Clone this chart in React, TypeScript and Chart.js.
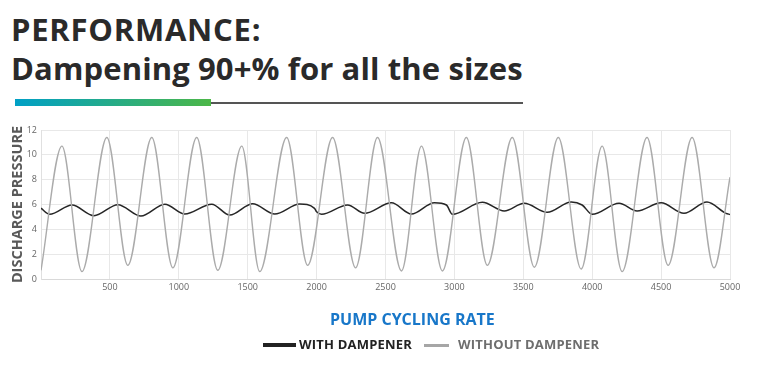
import React, { useEffect, useRef } from "react";
import { Chart, registerables } from "chart.js";

Chart.register(...registerables);

// Without dampener (gray) – peaks and troughs
const withoutX = [0, 152, 297, 478, 630, 804, 957, 1130, 1283, 1457, 1587, 1783, 1935, 2116, 2283, 2442, 2616, 2761, 2913, 3087, 3239, 3420, 3580, 3754, 3920, 4072, 4217, 4398, 4551, 4725, 4884, 5000];
const withoutY = [0.7, 10.7, 0.6, 11.4, 1.1, 11.4, 0.9, 11.4, 0.7, 10.7, 0.6, 11.4, 1.1, 11.4, 0.9, 11.4, 0.65, 10.7, 0.65, 11.4, 1.1, 11.4, 0.95, 11.4, 0.8, 10.7, 0.6, 11.4, 1.1, 11.4, 0.9, 8.2];

// With dampener (black)
const withX = [0, 63, 225, 384, 558, 725, 899, 1043, 1239, 1370, 1536, 1696, 1877, 1985, 2000, 2036, 2225, 2348, 2543, 2688, 2855, 2942, 2985, 3203, 3362, 3507, 3674, 3848, 3927, 4000, 4195, 4326, 4500, 4666, 4833, 4971, 5000];
const withY = [5.7, 5.21, 5.96, 5.1, 5.98, 5.07, 6.02, 5.23, 6.02, 5.15, 6.06, 5.23, 6.04, 5.69, 5.42, 5.21, 5.96, 5.29, 6.14, 5.23, 6.14, 5.96, 5.21, 6.18, 5.48, 6.1, 5.37, 6.2, 5.96, 5.21, 6.1, 5.48, 6.14, 5.29, 6.2, 5.29, 5.2];

const xMin = 0;
const xMax = 5000;
const xStep = 500;
const yMin = 0;
const yMax = 12;
const yStep = 2;

const titleLine1 = "PERFORMANCE:";
const titleLine2 = "Dampening 90+% for all the sizes";
const xTitle = "PUMP CYCLING RATE";
const yTitle = "DISCHARGE PRESSURE";
const seriesNames = ["WITH DAMPENER", "WITHOUT DAMPENER"];

const FONT = "'Open Sans', 'DejaVu Sans', sans-serif";

export default function App() {
  const ref = useRef<HTMLCanvasElement | null>(null);

  useEffect(() => {
    if (!ref.current) return;
    const chart = new Chart(ref.current, {
      type: "line",
      data: {
        datasets: [
          {
            label: seriesNames[1],
            data: withoutX.map((x, i) => ({ x, y: withoutY[i] })),
            borderColor: "#ababab",
            borderWidth: 1.4,
            pointRadius: 0,
            cubicInterpolationMode: "monotone",
            order: 0,
          },
          {
            label: seriesNames[0],
            data: withX.map((x, i) => ({ x, y: withY[i] })),
            borderColor: "#262626",
            borderWidth: 1.5,
            pointRadius: 0,
            cubicInterpolationMode: "monotone",
            order: 1,
          },
        ],
      },
      options: {
        responsive: false,
        animation: false,
        layout: { padding: { left: 0, top: 130, right: 36, bottom: 76 } },
        plugins: { legend: { display: false }, tooltip: { enabled: false } },
        scales: {
          x: {
            type: "linear",
            min: xMin,
            max: xMax,
            afterFit: (s: any) => {
              s.height = 15;
            },
            ticks: {
              stepSize: xStep,
              padding: 3,
              color: "#666",
              font: { family: FONT, size: 9 },
              callback: (v: any) => (v === 0 ? "" : String(v)),
              maxRotation: 0,
            },
            grid: { color: "#e8e8e8", drawTicks: false },
            border: { color: "#d9d9d9" },
          },
          y: {
            min: yMin,
            max: yMax,
            afterFit: (s: any) => {
              s.width = 41;
            },
            ticks: {
              stepSize: yStep,
              padding: 4,
              color: "#666",
              font: { family: FONT, size: 9 },
            },
            grid: { color: "#e8e8e8", drawTicks: false },
            border: { color: "#e0e0e0" },
            title: {
              display: true,
              text: yTitle,
              color: "#595959",
              font: { family: FONT, size: 14.5, weight: "bold" },
              padding: { top: 9, bottom: 0 },
            },
          },
        },
      },
    } as any);
    return () => chart.destroy();
  }, []);

  return (
    <div style={{ position: "absolute", left: 0, top: 0, width: 766, height: 370, background: "#fff", overflow: "hidden", fontFamily: FONT }}>
      <div style={{ position: "absolute", left: 11, top: 10, fontSize: 31, fontWeight: 700, lineHeight: "39px", color: "#2a2a2a", whiteSpace: "nowrap" }}>
        <div style={{ letterSpacing: "0.75px" }}>{titleLine1}</div>
        <div style={{ letterSpacing: "0.12px" }}>{titleLine2}</div>
      </div>
      <div style={{ position: "absolute", left: 15, top: 99, width: 196, height: 7, background: "linear-gradient(to right, #00a0c6, #4cb748)" }} />
      <div style={{ position: "absolute", left: 211, top: 102, width: 312, height: 2, background: "#555" }} />
      <canvas ref={ref} width={766} height={370} style={{ position: "absolute", left: 0, top: 0, width: 766, height: 370 }} />
      <div style={{ position: "absolute", left: 330, top: 311, fontSize: 16, lineHeight: "16px", fontWeight: 700, color: "#1877c9", whiteSpace: "nowrap" }}>{xTitle}</div>
      <div style={{ position: "absolute", left: 263, top: 343, width: 33, height: 4, background: "#222" }} />
      <div style={{ position: "absolute", left: 299, top: 338, fontSize: 13, lineHeight: "13px", fontWeight: 700, color: "#222", whiteSpace: "nowrap", letterSpacing: "0.2px" }}>{seriesNames[0]}</div>
      <div style={{ position: "absolute", left: 424, top: 343.5, width: 25, height: 3, background: "#a6a6a6" }} />
      <div style={{ position: "absolute", left: 458, top: 338, fontSize: 13, lineHeight: "13px", fontWeight: 700, color: "#6e6e6e", whiteSpace: "nowrap", letterSpacing: "0.2px" }}>{seriesNames[1]}</div>
    </div>
  );
}
